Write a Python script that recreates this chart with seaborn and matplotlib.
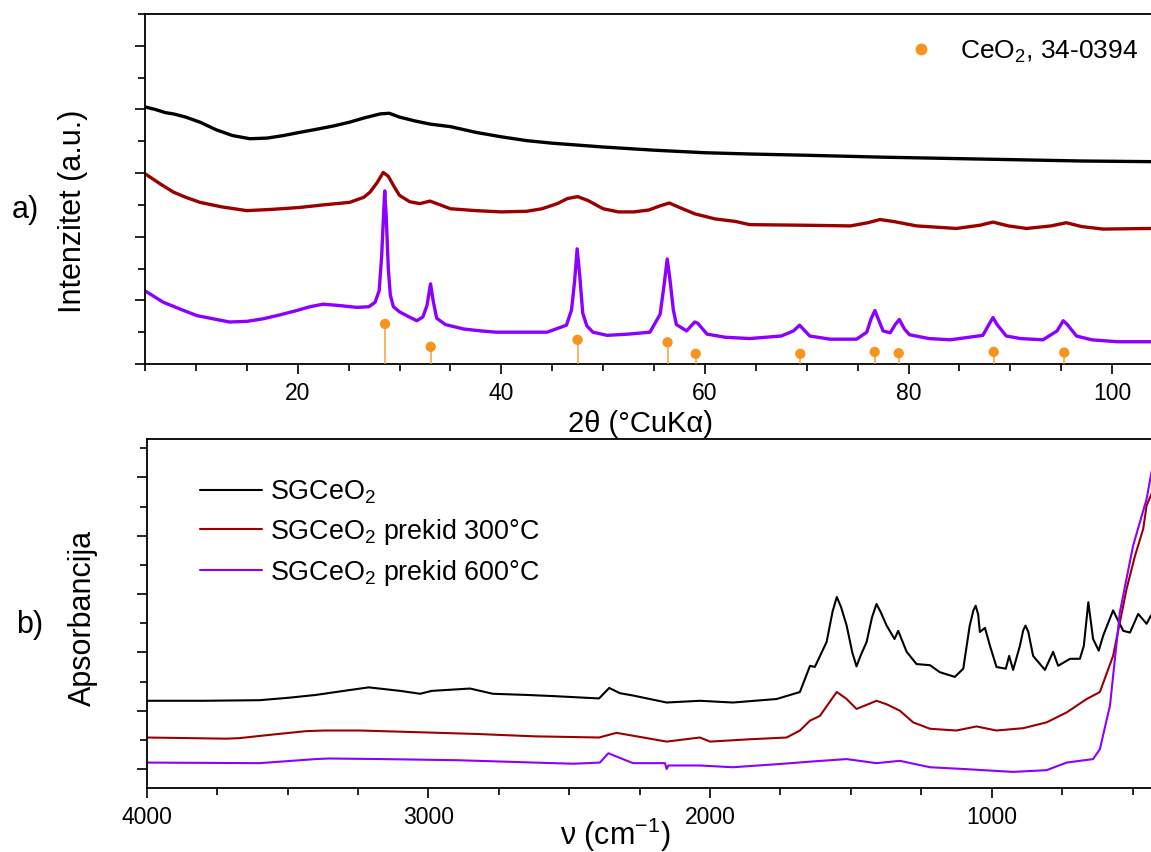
import numpy as np
import matplotlib
matplotlib.use("Agg")
import matplotlib.pyplot as plt
from matplotlib.ticker import MultipleLocator
from matplotlib.lines import Line2D
import seaborn as sns

sns.set_theme(style="ticks")
plt.rcParams['font.family'] = ['Liberation Sans', 'DejaVu Sans']
plt.rcParams['mathtext.fontset'] = 'custom'
plt.rcParams['mathtext.rm'] = 'Liberation Sans'
plt.rcParams['mathtext.it'] = 'Liberation Sans:italic'
plt.rcParams['mathtext.default'] = 'regular'
for key in ['text.color', 'axes.labelcolor', 'xtick.color', 'ytick.color']:
    plt.rcParams[key] = 'black'

# --- XRD (2theta, stacked intensities, a.u.) ---
xrd_black_x = [5.0, 6.0, 7.0, 7.8, 9.0, 10.4, 12.0, 13.6, 15.3, 17.0, 18.6, 20.2, 21.9, 23.5,
               25.1, 26.6, 28.1, 29.0, 30.0, 31.5, 33.0, 35.0, 37.5, 40.0, 42.5, 45.0, 50.0,
               55.0, 60.0, 64.4, 70.0, 77.5, 84.0, 90.6, 97.0, 103.7, 105.0]
xrd_black_y = [4.04, 4.00, 3.95, 3.93, 3.88, 3.80, 3.68, 3.59, 3.54, 3.55, 3.59, 3.64, 3.69, 3.74,
               3.80, 3.87, 3.93, 3.94, 3.88, 3.82, 3.77, 3.73, 3.64, 3.57, 3.51, 3.47, 3.41,
               3.36, 3.32, 3.30, 3.28, 3.25, 3.23, 3.21, 3.19, 3.18, 3.18]

xrd_red_x = [5.0, 6.5, 7.8, 9.0, 10.4, 12.5, 15.0, 17.5, 20.2, 22.5, 25.1, 26.5, 27.1, 27.8,
             28.4, 28.9, 29.5, 30.0, 31.0, 32.0, 33.0, 34.0, 35.0, 37.5, 40.0, 42.5, 44.0,
             45.5, 46.5, 47.5, 48.5, 50.0, 51.5, 53.0, 54.5, 55.5, 56.5, 57.5, 59.0, 61.0,
             63.0, 64.4, 70.0, 74.3, 76.0, 77.2, 78.5, 80.8, 84.7, 87.0, 88.3, 89.8, 91.6,
             94.0, 95.5, 97.0, 99.1, 103.7, 105.0]
xrd_red_y = [2.99, 2.83, 2.70, 2.62, 2.54, 2.47, 2.41, 2.43, 2.46, 2.50, 2.54, 2.62, 2.70, 2.85,
             3.01, 2.95, 2.78, 2.65, 2.55, 2.52, 2.56, 2.50, 2.44, 2.41, 2.39, 2.40, 2.44,
             2.52, 2.60, 2.63, 2.57, 2.44, 2.39, 2.39, 2.42, 2.48, 2.53, 2.46, 2.36, 2.28,
             2.24, 2.19, 2.18, 2.17, 2.22, 2.27, 2.24, 2.17, 2.13, 2.18, 2.23, 2.17, 2.13,
             2.17, 2.22, 2.16, 2.12, 2.13, 2.13]

xrd_purple_x = [5.0, 6.8, 8.5, 10.1, 11.7, 13.3, 15.0, 16.6, 18.2, 19.9, 21.2, 22.5, 24.0, 25.8,
                27.0, 27.6, 28.0, 28.25, 28.45, 28.55, 28.7, 28.9, 29.1, 29.4, 30.0, 30.7,
                31.7, 32.3, 32.7, 33.05, 33.3, 33.65, 34.5, 36.3, 38.0, 39.5, 42.0, 44.5,
                46.4, 46.9, 47.2, 47.45, 47.7, 48.0, 48.4, 49.0, 50.4, 52.5, 54.6, 55.6, 56.0,
                56.3, 56.55, 56.9, 57.2, 58.2, 59.0, 59.3, 60.2, 62.0, 64.4, 67.5, 68.7, 69.3,
                70.3, 72.3, 74.9, 75.9, 76.3, 76.7, 77.1, 77.5, 78.2, 78.7, 79.1, 79.6, 80.1,
                82.0, 84.1, 87.3, 87.9, 88.3, 88.7, 89.6, 91.0, 93.2, 94.6, 95.2, 95.6, 96.5,
                98.0, 100.5, 103.7, 105.0]
xrd_purple_y = [1.15, 0.97, 0.86, 0.76, 0.71, 0.66, 0.67, 0.71, 0.77, 0.84, 0.90, 0.94, 0.92, 0.89,
                0.90, 0.97, 1.15, 1.70, 2.40, 2.72, 2.30, 1.50, 1.08, 0.90, 0.82, 0.76,
                0.68, 0.74, 0.92, 1.26, 1.00, 0.72, 0.62, 0.55, 0.52, 0.50, 0.50, 0.50,
                0.61, 0.85, 1.30, 1.81, 1.40, 0.80, 0.60, 0.50, 0.45, 0.47, 0.50, 0.78, 1.25,
                1.65, 1.35, 0.85, 0.62, 0.52, 0.66, 0.64, 0.47, 0.42, 0.40, 0.44, 0.52, 0.61,
                0.44, 0.39, 0.39, 0.50, 0.70, 0.84, 0.68, 0.52, 0.49, 0.62, 0.70, 0.55, 0.46,
                0.40, 0.38, 0.45, 0.62, 0.73, 0.62, 0.44, 0.40, 0.38, 0.52, 0.68, 0.62, 0.44,
                0.38, 0.35, 0.35, 0.35]

# CeO2 reference card 34-0394
ref_pos = [28.58, 33.07, 47.49, 56.33, 59.10, 69.37, 76.68, 79.04, 88.37, 95.30]
ref_h = [0.63, 0.27, 0.38, 0.34, 0.16, 0.16, 0.19, 0.17, 0.19, 0.18]

# --- FTIR (wavenumber, absorbance offset) ---
ir_black_x = [4000, 3800, 3600, 3500, 3400, 3300, 3212, 3100, 3029, 2988, 2852, 2771, 2650, 2554,
              2394, 2358, 2320, 2273, 2154, 2036, 1919, 1764, 1681, 1645, 1628, 1586, 1565,
              1550, 1535, 1515, 1495, 1480, 1465, 1444, 1425, 1409, 1395, 1373, 1345, 1332,
              1302, 1267, 1219, 1184, 1131, 1101, 1078, 1065, 1057, 1048, 1042, 1024, 1006,
              983, 950, 938, 924, 900, 888, 880, 870, 853, 811, 782, 764, 722, 687, 673, 657,
              640, 620, 604, 569, 533, 509, 480, 450, 435, 400]
ir_black_y = [2.17, 2.17, 2.18, 2.22, 2.27, 2.34, 2.40, 2.34, 2.29, 2.34, 2.38, 2.29, 2.27, 2.25,
              2.21, 2.39, 2.30, 2.26, 2.14, 2.17, 2.14, 2.20, 2.32, 2.77, 2.75, 3.18, 3.70,
              3.95, 3.78, 3.46, 3.00, 2.76, 2.95, 3.18, 3.60, 3.83, 3.70, 3.46, 3.23, 3.37,
              3.01, 2.80, 2.78, 2.66, 2.58, 2.72, 3.46, 3.72, 3.80, 3.65, 3.35, 3.42, 3.11,
              2.75, 2.72, 2.94, 2.70, 3.11, 3.38, 3.46, 3.35, 2.94, 2.70, 3.01, 2.77, 2.89,
              2.89, 3.11, 3.86, 3.23, 3.03, 3.29, 3.72, 3.37, 3.34, 3.66, 3.49, 3.63, 3.70]

ir_red_x = [4000, 3716, 3669, 3574, 3432, 3368, 3243, 3030, 2825, 2622, 2394, 2332, 2154, 2036,
            2000, 1858, 1728, 1681, 1645, 1610, 1565, 1550, 1535, 1515, 1480, 1444, 1409,
            1373, 1326, 1279, 1219, 1125, 1054, 983, 888, 805, 734, 663, 616, 569, 521, 491,
            462, 450, 435, 400]
ir_red_y = [1.54, 1.52, 1.53, 1.58, 1.65, 1.66, 1.66, 1.63, 1.60, 1.56, 1.54, 1.62, 1.47, 1.54,
            1.47, 1.51, 1.54, 1.66, 1.83, 1.91, 2.22, 2.32, 2.27, 2.20, 2.03, 2.10, 2.17,
            2.11, 2.00, 1.80, 1.69, 1.66, 1.73, 1.66, 1.70, 1.80, 1.97, 2.20, 2.32, 2.94,
            4.09, 4.66, 5.12, 5.52, 5.69, 6.10]

ir_purple_x = [4000, 3600, 3400, 3354, 3164, 2893, 2622, 2486, 2391, 2361, 2320, 2273, 2160,
               2154, 2148, 2036, 1919, 1740, 1634, 1515, 1409, 1326, 1219, 1101, 924, 805,
               734, 640, 616, 580, 545, 498, 450, 435, 400]
ir_purple_y = [1.11, 1.10, 1.17, 1.18, 1.17, 1.15, 1.11, 1.09, 1.11, 1.27, 1.19, 1.10, 1.10,
               1.00, 1.06, 1.06, 1.03, 1.09, 1.13, 1.17, 1.10, 1.14, 1.03, 1.00, 0.95, 0.98,
               1.11, 1.17, 1.34, 2.09, 3.69, 4.83, 5.63, 6.03, 6.90]

labels = ['SGCeO$_2$', 'SGCeO$_2$ prekid 300°C', 'SGCeO$_2$ prekid 600°C']
colors = ['#000000', '#9B0000', '#8B00FF']
orange = '#F7941D'

W, H = 1151, 853
fig = plt.figure(figsize=(W / 100, H / 100), dpi=100)
ax1 = fig.add_axes([145 / W, (H - 365) / H, 1018 / W, 350 / H])
ax2 = fig.add_axes([146.7 / W, (H - 789) / H, 1014 / W, 349 / H])

# top panel: XRD
for xs, ys, c in zip([xrd_black_x, xrd_red_x, xrd_purple_x],
                     [xrd_black_y, xrd_red_y, xrd_purple_y], colors):
    sns.lineplot(x=xs, y=ys, color=c, lw=2.4, ax=ax1, estimator=None, sort=False)
ax1.vlines(ref_pos, 0, ref_h, color=orange, lw=1.2, alpha=0.8, zorder=3)
sns.scatterplot(x=ref_pos, y=ref_h, color=orange, s=55, edgecolor='none', ax=ax1, zorder=4)
ax1.set_xlim(5, 105)
ax1.set_ylim(0, 5.5)
ax1.xaxis.set_major_locator(MultipleLocator(20))
ax1.xaxis.set_minor_locator(MultipleLocator(5))
ax1.yaxis.set_major_locator(MultipleLocator(1))
ax1.yaxis.set_minor_locator(MultipleLocator(0.5))
ax1.set_xlabel('2θ (°CuKα)', fontsize=21)
ax1.set_ylabel('Intenzitet (a.u.)', fontsize=22)
ax1.xaxis.label.set_va('center')
ax1.xaxis.set_label_coords((640 - 145) / 1018, (365 - 424) / 350)
ax1.yaxis.label.set_va('center')
ax1.yaxis.set_label_coords((73 - 145) / 1018, (365 - 211) / 350)
h_ref = Line2D([], [], marker='o', ls='none', color=orange, markersize=7.5)
ax1.legend([h_ref], ['CeO$_2$, 34-0394'], loc='center left', frameon=False, fontsize=19,
           handlelength=1.6, handletextpad=0.68, borderpad=0, borderaxespad=0,
           bbox_to_anchor=(900 / W, 1 - 52 / H), bbox_transform=fig.transFigure)

# bottom panel: FTIR
for xs, ys, c, lab in zip([ir_black_x, ir_red_x, ir_purple_x],
                          [ir_black_y, ir_red_y, ir_purple_y], colors, labels):
    sns.lineplot(x=xs, y=ys, color=c, lw=1.5, ax=ax2, estimator=None, sort=False, label=lab)
ax2.set_xlim(4000, 400)
ax2.set_ylim(0.674, 6.66)
ax2.xaxis.set_major_locator(MultipleLocator(1000))
ax2.xaxis.set_minor_locator(MultipleLocator(250))
ax2.yaxis.set_major_locator(MultipleLocator(1))
ax2.yaxis.set_minor_locator(MultipleLocator(0.5))
ax2.set_xlabel('ν (cm$^{-1}$)', fontsize=22)
ax2.set_ylabel('Apsorbancija', fontsize=22)
ax2.xaxis.label.set_va('center')
ax2.xaxis.set_label_coords((615 - 146.7) / 1014, (789 - 835) / 349)
ax2.yaxis.label.set_va('center')
ax2.yaxis.set_label_coords((83 - 146.7) / 1014, (789 - 618) / 349)
ax2.legend(loc='upper left', frameon=False, fontsize=19.4, handlelength=2.3,
           handletextpad=0.3, labelspacing=0.4, borderpad=0, borderaxespad=0,
           bbox_to_anchor=(200 / W, 1 - 479 / H), bbox_transform=fig.transFigure)

for ax in (ax1, ax2):
    for s in ax.spines.values():
        s.set_linewidth(1.3)
        s.set_color('black')
    ax.tick_params(which='major', direction='out', length=7.5, width=1.2, color='black',
                   labelsize=16.5, pad=5, labelleft=False, left=True, bottom=True)
    ax.tick_params(which='minor', direction='out', length=4.8, width=1.2, color='black',
                   left=True, bottom=True)
    ax.grid(False)

fig.text(25 / W, 1 - 210 / H, 'a)', fontsize=22, ha='center', va='center')
fig.text(30 / W, 1 - 625 / H, 'b)', fontsize=22, ha='center', va='center')

fig.savefig('out.png', dpi=100, facecolor='white')
